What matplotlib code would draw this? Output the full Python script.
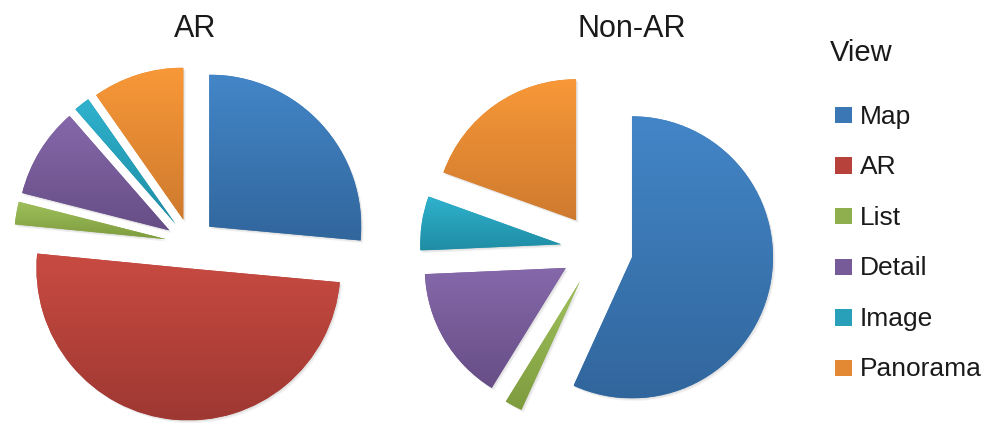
import numpy as np
import matplotlib
matplotlib.use("Agg")
import matplotlib.pyplot as plt
from matplotlib.colors import LinearSegmentedColormap
from matplotlib.patches import Wedge, Rectangle

plt.rcParams["font.family"] = ["Liberation Sans", "DejaVu Sans"]

# share of time spent in each view (%)
categories = ["Map", "AR", "List", "Detail", "Image", "Panorama"]
ar_share = [26.4, 50.0, 2.4, 9.6, 1.7, 9.7]
non_ar_share = [56.8, 0.0, 2.0, 15.5, 6.2, 19.5]
pie_titles = ["AR", "Non-AR"]
legend_title = "View"

# top / bottom colours of the per-slice gradient
light = ["#4386c8", "#c94b42", "#a0c05c", "#8568aa", "#2fb2ce", "#f89838"]
dark = ["#31669c", "#9e3832", "#7e9c3e", "#674e86", "#1f8da4", "#ce7a2e"]
mid = ["#3b77b4", "#b6423b", "#8fae4d", "#775b98", "#28a0ba", "#e48933"]

W, H = 987, 425
fig = plt.figure(figsize=(W / 100, H / 100), dpi=100)
ax = fig.add_axes([0, 0, 1, 1])

# pixel-like data units, y pointing up
pies = [
    dict(values=ar_share, center=(190.8, 181.5), radius=152, gap=25, title_x=195),
    dict(values=non_ar_share, center=(596.8, 175.3), radius=141, gap=36, title_x=632),
]

grad = np.linspace(0, 1, 256).reshape(-1, 1)

for p, title in zip(pies, pie_titles):
    wedges, _ = ax.pie(
        p["values"],
        colors=mid,
        startangle=90,
        counterclock=False,
        center=p["center"],
        radius=p["radius"],
        explode=[p["gap"]] * len(categories),
        wedgeprops=dict(linewidth=0, edgecolor="none"),
    )
    for i, (w, v) in enumerate(zip(wedges, p["values"])):
        if v <= 0:
            w.set_visible(False)
            continue
        w.set_zorder(2)
        # soft drop shadow
        for k in (1, 2, 3):
            sh = Wedge((w.center[0] + 0.8 * k, w.center[1] - 0.9 * k), w.r,
                       w.theta1, w.theta2, facecolor="black", alpha=0.045,
                       linewidth=0, zorder=1)
            ax.add_patch(sh)
        # vertical gradient clipped to the slice
        bb = w.get_path().get_extents()
        cmap = LinearSegmentedColormap.from_list(categories[i], [dark[i], light[i]])
        im = ax.imshow(grad, cmap=cmap, origin="lower", aspect="auto",
                       extent=[bb.x0, bb.x1, bb.y0, bb.y1], zorder=3,
                       interpolation="bilinear")
        im.set_clip_path(w)
    ax.text(p["title_x"], H - 37, title, fontsize=22, ha="center",
            va="baseline", color="#1a1a1a")

# legend
ax.text(830, H - 61, legend_title, fontsize=21, ha="left", va="baseline",
        color="#1a1a1a")
row0, step, size = 115, 50.6, 16.5
for i, name in enumerate(categories):
    yc = H - (row0 + i * step)
    ax.add_patch(Rectangle((835, yc - size / 2), size, size, facecolor=mid[i],
                           edgecolor="none", zorder=3))
    ax.text(860, yc - 8.5, name, fontsize=19, ha="left", va="baseline",
            color="#1a1a1a")

ax.set_xlim(0, W)
ax.set_ylim(0, H)
ax.set_aspect("equal")
ax.axis("off")

fig.savefig("out.png", dpi=100, facecolor="white")
